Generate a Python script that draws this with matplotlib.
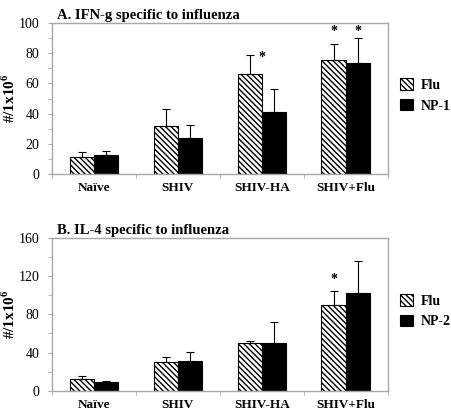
import matplotlib
matplotlib.use("Agg")
import matplotlib.pyplot as plt
import numpy as np

plt.rcParams['font.family'] = ['Liberation Serif', 'DejaVu Serif']
plt.rcParams['hatch.linewidth'] = 1.0
plt.rcParams['mathtext.fontset'] = 'custom'
plt.rcParams['mathtext.rm'] = 'Liberation Serif'
plt.rcParams['mathtext.bf'] = 'Liberation Serif:bold'

categories = ["Naïve", "SHIV", "SHIV-HA", "SHIV+Flu"]

# Panel A: IFN-g
a_title = "A. IFN-g specific to influenza"
a_flu = [11.2, 32.1, 66.3, 75.8]
a_flu_err = [3.1, 11.2, 12.5, 10.2]
a_np = [12.6, 24.0, 41.2, 73.2]
a_np_err = [2.6, 8.3, 15.3, 16.6]
a_series_names = ["Flu", "NP-1"]
a_yticks = [0, 20, 40, 60, 80, 100]
a_stars = [(2.0, 73.0), (2.855, 90.0), (3.145, 90.0)]

# Panel B: IL-4
b_title = "B. IL-4 specific to influenza"
b_flu = [12.8, 30.5, 49.6, 89.5]
b_flu_err = [2.8, 4.9, 2.8, 14.5]
b_np = [9.7, 31.6, 49.6, 102.0]
b_np_err = [0.7, 9.0, 22.9, 33.4]
b_series_names = ["Flu", "NP-2"]
b_yticks = [0, 40, 80, 120, 160]
b_stars = [(2.855, 110.0)]

ylabel = "#/1x10$^{\\mathbf{6}}$"

fig = plt.figure(figsize=(4.52, 4.11), dpi=100)
ax1 = fig.add_axes([0.115, 0.5766, 0.743, 0.3674])
ax2 = fig.add_axes([0.115, 0.0487, 0.743, 0.3730])

frame_col = '#a8a8a8'
w = 0.29

def draw(ax, title, flu, flu_err, np_, np_err, names, yticks, stars):
    x = np.arange(len(categories))
    ax.bar(x - w/2, flu, w, color='white', edgecolor='black', hatch='\\\\\\\\\\\\', linewidth=0.8, label=names[0])
    ax.bar(x + w/2, np_, w, color='black', edgecolor='black', linewidth=0.8, label=names[1])
    ax.errorbar(x - w/2, flu, yerr=[np.zeros(len(flu)), flu_err], fmt='none', ecolor='black', elinewidth=0.8, capsize=3, capthick=0.8)
    ax.errorbar(x + w/2, np_, yerr=[np.zeros(len(np_)), np_err], fmt='none', ecolor='black', elinewidth=0.8, capsize=3, capthick=0.8)
    for sx, sy in stars:
        ax.text(sx, sy, "*", ha='center', va='bottom', fontsize=10, fontweight='bold')
    ax.set_xlim(-0.5, len(categories) - 0.5)
    ax.set_ylim(yticks[0], yticks[-1])
    ax.set_yticks(yticks)
    ax.set_yticklabels([str(t) for t in yticks], fontsize=10)
    minor = [(yticks[i] + yticks[i+1]) / 2 for i in range(len(yticks) - 1)]
    ax.set_yticks(minor, minor=True)
    ax.set_xticks(x)
    ax.set_xticklabels(categories, fontsize=9.5, fontweight='bold')
    ax.set_xticks(np.arange(len(categories) + 1) - 0.5, minor=True)
    ax.tick_params(axis='x', which='major', length=0, pad=6)
    ax.tick_params(axis='x', which='minor', length=3, color=frame_col, direction='out')
    ax.tick_params(axis='y', which='both', length=3, color=frame_col, direction='out', pad=6)
    for s in ax.spines.values():
        s.set_color(frame_col)
        s.set_linewidth(1.0)
    ax.set_title(title, fontsize=10.5, fontweight='bold', loc='left', x=0.015, pad=3)
    ax.set_ylabel(ylabel, fontsize=11, fontweight='bold')
    ax.yaxis.set_label_coords(-0.1, 0.5)
    ax.legend(loc='center left', bbox_to_anchor=(1.0, 0.52), frameon=False,
              prop={'weight': 'bold', 'size': 10}, handlelength=0.9, handleheight=0.9,
              handletextpad=0.6, labelspacing=0.5)

draw(ax1, a_title, a_flu, a_flu_err, a_np, a_np_err, a_series_names, a_yticks, a_stars)
draw(ax2, b_title, b_flu, b_flu_err, b_np, b_np_err, b_series_names, b_yticks, b_stars)

fig.savefig("out.png", dpi=100)
